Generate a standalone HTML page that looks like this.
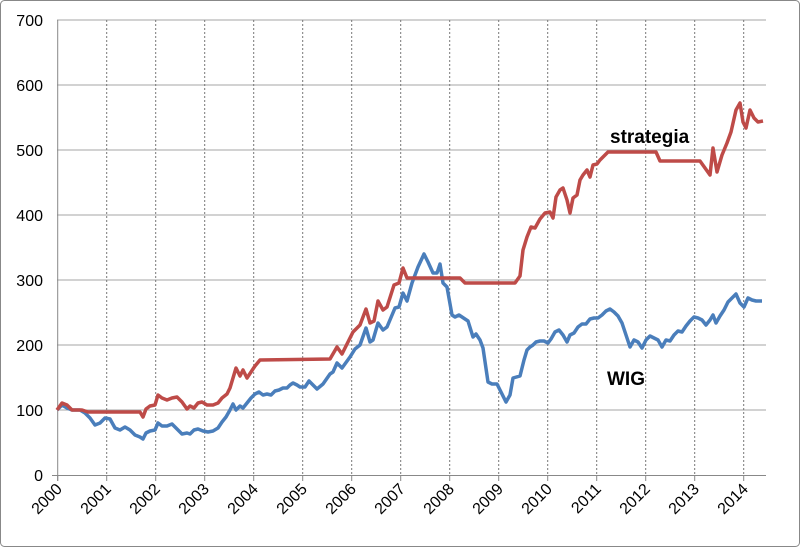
<!DOCTYPE html>
<html><head><style>body{margin:0;background:#fff}svg{display:block}</style></head><body>
<svg width="800" height="547" xmlns="http://www.w3.org/2000/svg" font-family="Liberation Sans, sans-serif">
<rect x="0.5" y="0.5" width="799" height="546" rx="4" fill="#fff" stroke="#888"/>
<g stroke="#a6a6a6" stroke-width="1">
<line x1="57" y1="20" x2="766" y2="20"/><line x1="57" y1="85" x2="766" y2="85"/><line x1="57" y1="150" x2="766" y2="150"/><line x1="57" y1="215" x2="766" y2="215"/><line x1="57" y1="280" x2="766" y2="280"/><line x1="57" y1="345" x2="766" y2="345"/><line x1="57" y1="410" x2="766" y2="410"/>
</g>
<g stroke="#777" stroke-width="1" stroke-dasharray="2,2">
<line x1="106.7" y1="20" x2="106.7" y2="475"/><line x1="155.7" y1="20" x2="155.7" y2="475"/><line x1="204.7" y1="20" x2="204.7" y2="475"/><line x1="253.7" y1="20" x2="253.7" y2="475"/><line x1="302.7" y1="20" x2="302.7" y2="475"/><line x1="351.7" y1="20" x2="351.7" y2="475"/><line x1="400.7" y1="20" x2="400.7" y2="475"/><line x1="449.7" y1="20" x2="449.7" y2="475"/><line x1="498.7" y1="20" x2="498.7" y2="475"/><line x1="547.7" y1="20" x2="547.7" y2="475"/><line x1="596.7" y1="20" x2="596.7" y2="475"/><line x1="645.7" y1="20" x2="645.7" y2="475"/><line x1="694.7" y1="20" x2="694.7" y2="475"/><line x1="743.7" y1="20" x2="743.7" y2="475"/>
</g>
<g stroke="#888"><line x1="57.7" y1="20" x2="57.7" y2="481"/><line x1="52" y1="475.5" x2="766" y2="475.5"/>
<path d="M57.7 475v6M106.7 475v6M155.7 475v6M204.7 475v6M253.7 475v6M302.7 475v6M351.7 475v6M400.7 475v6M449.7 475v6M498.7 475v6M547.7 475v6M596.7 475v6M645.7 475v6M694.7 475v6M743.7 475v6"/></g>
<g font-size="16" fill="#000" text-anchor="end">
<text x="43" y="26">700</text><text x="43" y="91">600</text><text x="43" y="156">500</text><text x="43" y="221">400</text><text x="43" y="286">300</text><text x="43" y="351">200</text><text x="43" y="416">100</text><text x="43" y="481">0</text>
</g>
<g font-size="16" fill="#000" text-anchor="end">
<text transform="translate(63,490) rotate(-45)">2000</text><text transform="translate(112,490) rotate(-45)">2001</text><text transform="translate(161,490) rotate(-45)">2002</text><text transform="translate(210,490) rotate(-45)">2003</text><text transform="translate(259,490) rotate(-45)">2004</text><text transform="translate(308,490) rotate(-45)">2005</text><text transform="translate(357,490) rotate(-45)">2006</text><text transform="translate(406,490) rotate(-45)">2007</text><text transform="translate(455,490) rotate(-45)">2008</text><text transform="translate(504,490) rotate(-45)">2009</text><text transform="translate(553,490) rotate(-45)">2010</text><text transform="translate(602,490) rotate(-45)">2011</text><text transform="translate(651,490) rotate(-45)">2012</text><text transform="translate(700,490) rotate(-45)">2013</text><text transform="translate(749,490) rotate(-45)">2014</text>
</g>
<polyline fill="none" stroke="#4a7ebb" stroke-width="3.5" stroke-linejoin="round" points="57,410 62,405 67,408 72,410 80,410 85,413 90,418 95,425 100,423 105,418 110,419 115,428 120,430 125,427 130,430 135,435 140,437 143,439 146,433 150,431 155,430 158,423 162,426 167,426 172,424 177,429 182,434 187,433 190,434 194,430 198,429 203,431 208,432 213,431 218,428 222,422 226,417 230,410 233,404 236,410 240,406 243,408 247,403 251,398 255,394 259,392 263,395 267,394 271,395 275,391 279,390 283,388 287,388 290,385 293,383 297,385 300,387 305,387 309,381 317,389 323,384 330,374 333,372 337,363 342,368 350,357 355,349 360,345 366,328 370,342 373,340 378,323 383,330 387,327 395,308 399,307 403,293 407,301 412,283 418,267 424,254 428,262 433,273 437,273 440,264 443,283 447,287 452,315 455,317 459,315 465,319 468,321 473,337 476,334 480,340 483,348 488,382 492,384 497,384 506,402 510,395 513,378 520,376 524,360 527,350 530,347 533,345 536,342 540,341 544,341 548,343 551,339 555,332 559,330 563,335 567,342 570,335 574,333 578,327 582,324 586,324 590,319 594,318 598,318 602,315 606,311 610,309 614,312 618,316 622,323 626,335 630,347 634,340 638,342 642,348 646,340 650,336 654,338 658,340 662,347 666,340 670,341 674,335 678,331 682,332 686,326 690,321 694,317 698,318 702,320 706,325 710,320 713,315 716,323 720,316 724,310 728,302 732,298 736,294 740,303 744,307 748,298 752,300 756,301 762,301"/>
<polyline fill="none" stroke="#be4b48" stroke-width="3.5" stroke-linejoin="round" points="57,410 62,403 67,405 72,410 82,410 88,412 140,412 143,417 146,409 150,406 155,405 158,395 162,398 167,400 172,398 177,397 182,402 187,409 190,406 194,408 198,403 202,402 207,405 213,405 218,403 222,398 227,394 230,388 233,378 236,368 240,376 243,370 247,378 251,372 255,366 260,360 330,359 337,347 342,354 353,332 360,325 366,309 370,323 374,321 378,301 383,310 387,307 394,285 399,283 403,268 407,278 460,278 465,283 515,283 520,276 523,250 527,237 531,227 535,228 540,219 545,213 550,212 553,218 556,197 560,190 563,188 567,200 570,213 573,198 577,195 580,180 583,175 587,170 590,177 593,165 597,164 600,160 605,155 608,152 656,152 660,161 700,161 705,168 710,175 713,148 717,172 722,155 727,143 731,132 736,110 740,103 743,122 746,128 750,110 754,118 758,122 763,121"/>
<text x="610" y="143" font-size="19" font-weight="bold">strategia</text>
<text x="607" y="385" font-size="19" font-weight="bold">WIG</text>
</svg>
</body></html>
